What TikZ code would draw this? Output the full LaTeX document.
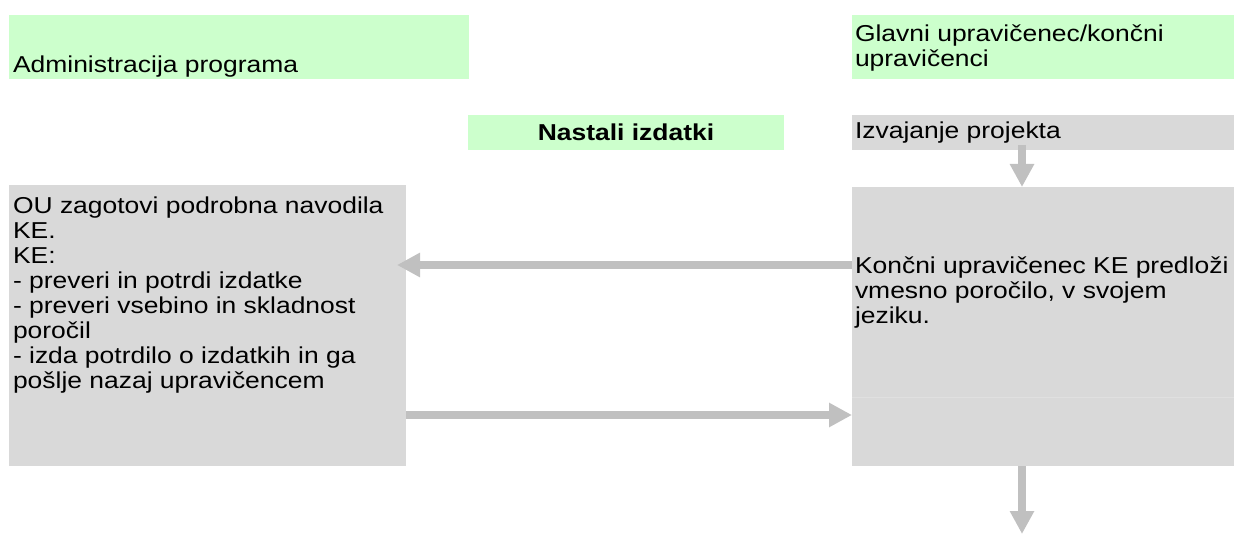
\documentclass[tikz,border=0pt]{standalone}
\usepackage{fontspec}
\setmainfont{Liberation Sans}[FakeStretch=1.15]
\usepackage{xcolor}
\usetikzlibrary{positioning, arrows.meta}
\definecolor{boxgreen}{HTML}{CCFFCC}
\definecolor{boxgray}{HTML}{D9D9D9}
\definecolor{flowgray}{HTML}{C0C0C0}
\tikzset{
    every node/.style={inner sep=0pt, outer sep=0pt, font=\fontsize{11.5}{12.5}\selectfont}, % Arial-like text
    greenbox/.style={fill=boxgreen, anchor=north west}, % header fields
    graybox/.style={fill=boxgray, anchor=north west}, % step fields
    label/.style={align=left, anchor=north west}, % text inside a field
    flow/.style={draw=flowgray, line width=4pt, -{Triangle[length=11.5pt, width=11.5pt]}}, % thick grey arrows
}

\begin{document}
\begin{tikzpicture}[x=0.5pt, y=-0.5pt]
    \useasboundingbox (0,0) rectangle (1241,534);

    % Polja
    \node[greenbox, minimum width=230pt, minimum height=32pt] (admin) at (9,15) {};
    \node[greenbox, minimum width=191pt, minimum height=32pt] (glavni) at (852,15) {};
    \node[greenbox, minimum width=158pt, minimum height=17.5pt, font=\fontsize{11.5}{12.5}\selectfont\bfseries] (nastali) at (468,115) {Nastali izdatki};
    \node[graybox, minimum width=191pt, minimum height=17.5pt] (izvaj) at (852,115) {};
    \node[graybox, minimum width=198.5pt, minimum height=140.5pt] (navodila) at (9,185) {};
    \node[graybox, minimum width=191pt, minimum height=105pt] (porocilo) at (852,187) {};
    \node[graybox, minimum width=191pt, minimum height=34.5pt] (potrdilo) at (852,397) {};
    \draw[white!88!black, line width=0.5pt] (potrdilo.north west) -- (potrdilo.north east);

    % Besedila
    \node[anchor=base west] (admint) at (13,73) {Administracija programa};
    \node[label] (glavnit) at (855,25) {Glavni upravičenec/končni\\upravičenci};
    \node[anchor=base west] (izvajt) at (855,139) {Izvajanje projekta};
    \node[label] (navodilat) at (13,197) {OU zagotovi podrobna navodila\\KE.\\KE:\\- preveri in potrdi izdatke\\- preveri vsebino in skladnost\\poročil\\- izda potrdilo o izdatkih in ga\\pošlje nazaj upravičencem};
    \node[label] (porocilot) at (855,257) {Končni upravičenec KE predloži\\vmesno poročilo, v svojem\\jeziku.};

    % Puščice
    \coordinate (vmesno) at (0,265);
    \coordinate (nazaj) at (0,415);
    \coordinate (stolpec) at (1022,0);
    \coordinate (konec) at (1022,534);
    \draw[flow] (porocilo.west |- vmesno) -- ([xshift=-4.5pt]navodila.east |- vmesno);
    \draw[flow] (navodila.east |- nazaj) -- (potrdilo.west |- nazaj);
    \draw[flow] ([yshift=2.5pt]izvaj.south -| stolpec) -- (porocilo.north -| stolpec);
    \draw[flow] (potrdilo.south -| stolpec) -- (konec);
\end{tikzpicture}
\end{document}
